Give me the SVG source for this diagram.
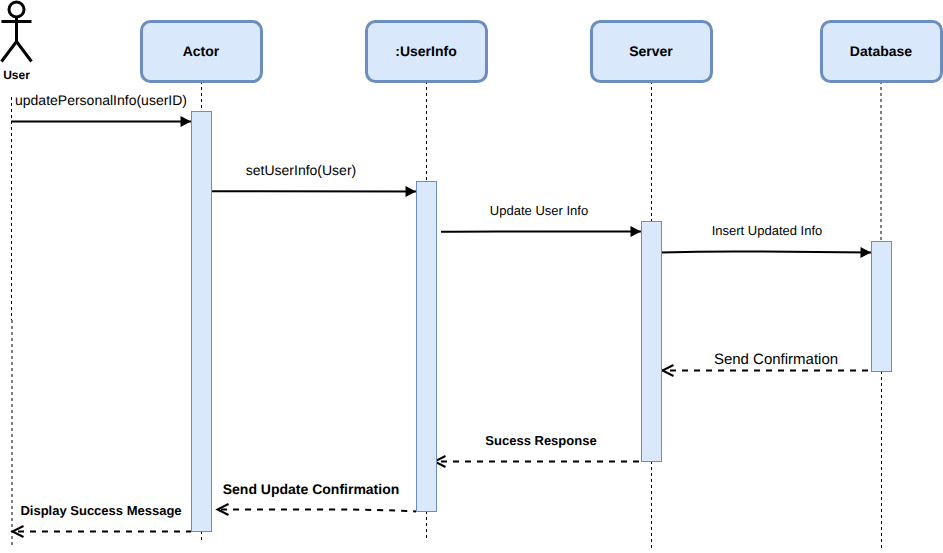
<svg xmlns="http://www.w3.org/2000/svg" width="943" height="553" viewBox="0 0 943 553">
<style>
text{font-family:"Liberation Sans",Arial,sans-serif;fill:#000;text-anchor:middle;text-rendering:geometricPrecision}
.b{font-weight:bold}
.head{fill:#dae8fc;stroke:#6c8ebf;stroke-width:3}
.act{fill:#dae8fc;stroke:#6c8ebf;stroke-width:1}
.life{fill:none;stroke:#000;stroke-width:1;stroke-dasharray:3 3}
.msg{fill:none;stroke:#000;stroke-width:2;marker-end:url(#solid)}
.ret{fill:none;stroke:#000;stroke-width:2;stroke-dasharray:6 6;marker-end:url(#open)}
.fig{fill:none;stroke:#000;stroke-width:3}
</style>
<defs>
<marker id="solid" markerUnits="userSpaceOnUse" markerWidth="13" markerHeight="14" refX="11" refY="7" orient="auto"><path d="M0.500 1.500 L11 7 L0.500 12.500 Z" fill="#000"/></marker>
<marker id="open" markerUnits="userSpaceOnUse" markerWidth="16" markerHeight="16" refX="13" refY="8" orient="auto"><path d="M1.500 2.500 L12.500 8 L1.500 13.500" fill="none" stroke="#000" stroke-width="2"/></marker>
</defs>
<g id="connectors">
<path class="life" d="M201.500 81V111M201.500 531V541"/>
<path class="life" d="M426.500 81V181M426.500 511V541"/>
<path class="life" d="M651.500 81V221M651.500 461V549"/>
<path class="life" d="M881 81V241M881.500 371V549"/>
<path class="life" d="M11.500 97V320M12 320V545"/>
<path class="msg" d="M11 121.500H191"/>
<path class="msg" d="M211 191.300L416 191.500"/>
<path class="msg" d="M441 231.800Q460 231.500 500 231.500H641"/>
<path class="msg" d="M661 252.500Q710 251 760 251.500L871 252.500"/>
<path class="ret" stroke-dashoffset="-3" d="M871 370.500H662"/>
<path class="ret" stroke-dashoffset="-2" d="M641 461.500H434"/>
<path class="ret" stroke-dashoffset="-9" d="M416 511.500Q380 509.500 330 509.500L217 509.500"/>
<path class="ret" stroke-dashoffset="-11" d="M191 531.500H12"/>
<text x="101" y="105" font-size="14">updatePersonalInfo(userID)</text>
<text x="301" y="175" font-size="14">setUserInfo(User)</text>
<text x="539" y="215" font-size="13">Update User Info</text>
<text x="767" y="235" font-size="13">Insert Updated Info</text>
<text x="776" y="364" font-size="15">Send Confirmation</text>
<text x="541" y="445" font-size="13" class="b">Sucess Response</text>
<text x="311" y="494" font-size="14" class="b">Send Update Confirmation</text>
<text x="101" y="515" font-size="13" class="b">Display Success Message</text>
</g>
<g id="user">
<circle class="fig" cx="16.500" cy="9.500" r="7.500"/>
<path class="fig" d="M16.500 17V41M1.500 21.500H31.500M1.500 61.500L16.500 41.500L31.500 61.500"/>
<text x="16.500" y="79" font-size="12" class="b">User</text>
</g>
<g id="actor">
<rect class="head" x="141.500" y="21.500" width="120" height="60" rx="9"/>
<text x="201" y="56" font-size="14" class="b">Actor</text>
<rect class="act" x="191.500" y="111.500" width="20" height="420"/>
</g>
<g id="userinfo">
<rect class="head" x="366.500" y="21.500" width="120" height="60" rx="9"/>
<text x="426" y="56" font-size="14" class="b">:UserInfo</text>
<rect class="act" x="416.500" y="181.500" width="20" height="330"/>
</g>
<g id="server">
<rect class="head" x="591.500" y="21.500" width="120" height="60" rx="9"/>
<text x="651" y="56" font-size="14" class="b">Server</text>
<rect class="act" x="641.500" y="221.500" width="20" height="240"/>
</g>
<g id="database">
<rect class="head" x="821.500" y="21.500" width="120" height="60" rx="9"/>
<text x="881" y="56" font-size="14" class="b">Database</text>
<rect class="act" x="871.500" y="241.500" width="20" height="130"/>
</g>
</svg>
